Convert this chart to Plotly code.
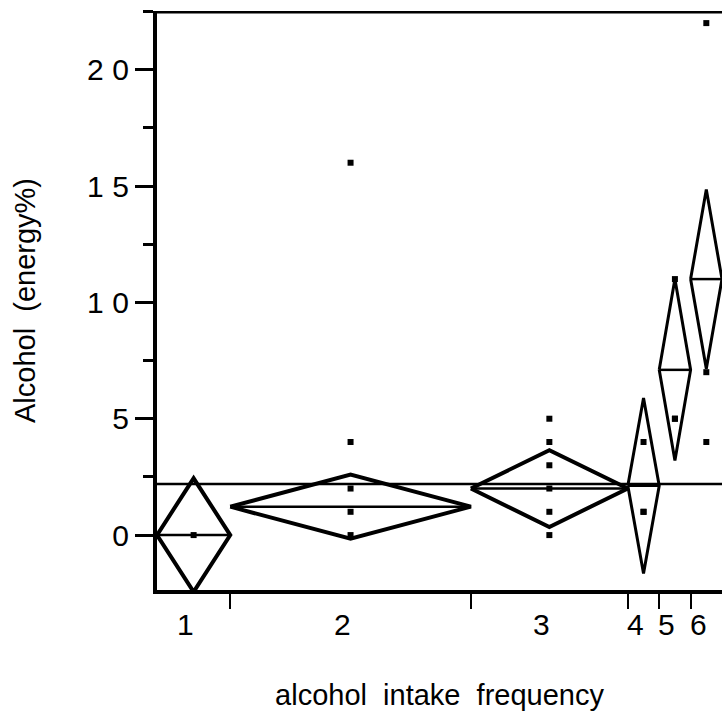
import numpy as np
import plotly.graph_objects as go

# ---- data ----
groups = ["1", "2", "3", "4", "5", "6"]
group_n = [7, 23, 15, 3, 3, 3]                      # group sizes (diamond widths)
group_means = [0.0, 1.22, 2.0, 2.12, 7.1, 11.0]      # group means
ci_half = [2.44, 1.38, 1.65, 3.77, 3.9, 3.85]        # 95% CI half-heights
points = [
    [0],
    [0, 1, 2, 4, 16],
    [0, 1, 2, 3, 4, 5],
    [1, 1, 4],
    [5, 5, 11],
    [4, 7, 22],
]
grand_mean = 2.19
y_major = [0, 5, 10, 15, 20]
y_labels = ["0", "5", "1\u2009\u200a0", "1\u2009\u200a5", "2\u2009\u200a0"]

# ---- derived positions ----
edges = np.concatenate([[0], np.cumsum(group_n)])
lefts = edges[:-1]
rights = edges[1:]
centers = (lefts + rights) / 2
xmax = float(edges[-1])

fig = go.Figure()
FONT = "Liberation Sans, Arial, sans-serif"

for i in range(len(groups)):
    L, R, C, m, h = lefts[i], rights[i], centers[i], group_means[i], ci_half[i]
    lw = 4 if group_n[i] > 5 else 3
    fig.add_trace(go.Scatter(
        x=[L, C, R, C, L], y=[m, m + h, m, m - h, m],
        mode="lines", line=dict(color="black", width=lw),
        showlegend=False, hoverinfo="skip"))
    fig.add_trace(go.Scatter(
        x=[L, R], y=[m, m], mode="lines",
        line=dict(color="black", width=2.5), showlegend=False, hoverinfo="skip"))
    fig.add_trace(go.Scatter(
        x=[C] * len(points[i]), y=points[i], mode="markers",
        marker=dict(symbol="square", size=6, color="black"),
        showlegend=False, hoverinfo="skip"))

# grand mean
fig.add_trace(go.Scatter(x=[0, xmax], y=[grand_mean, grand_mean], mode="lines",
                         line=dict(color="black", width=2.5),
                         showlegend=False, hoverinfo="skip"))

# category labels under the plot
for i, g in enumerate(groups):
    fig.add_annotation(x=centers[i], y=0, xref="x", yref="paper", text=g,
                       showarrow=False, xshift=-8, yshift=-34, yanchor="middle",
                       font=dict(family=FONT, size=30, color="black"))

# top border
fig.add_shape(type="line", xref="paper", yref="y", x0=-0.003, x1=1, y0=22.5, y1=22.5,
              line=dict(color="black", width=4))

fig.update_layout(
    width=723, height=713,
    margin=dict(l=157, r=1, t=11, b=123),
    plot_bgcolor="white", paper_bgcolor="white",
    font=dict(family=FONT, size=30, color="black"),
    xaxis=dict(range=[0, xmax], showgrid=False, zeroline=False,
               showline=True, linecolor="black", linewidth=4,
               tickvals=list(edges[1:-1]), ticktext=[""] * (len(edges) - 2),
               ticks="outside", ticklen=15, tickwidth=2, tickcolor="black",
               title=dict(text="alcohol\u00a0 intake\u00a0 frequency", standoff=72,
                          font=dict(family=FONT, size=29))),
    yaxis=dict(range=[-2.36, 22.52], showgrid=False, zeroline=False,
               showline=True, linecolor="black", linewidth=4,
               tickvals=y_major, ticktext=y_labels,
               ticks="outside", ticklen=18, tickwidth=2.5, tickcolor="black",
               minor=dict(dtick=2.5, tick0=0, ticks="outside", ticklen=10,
                          tickwidth=2.5, tickcolor="black"),
               tickfont=dict(family=FONT, size=30),
               title=dict(text="Alcohol\u00a0 (energy%)", standoff=44,
                          font=dict(family=FONT, size=29))),
)

fig.write_html("out.html")
